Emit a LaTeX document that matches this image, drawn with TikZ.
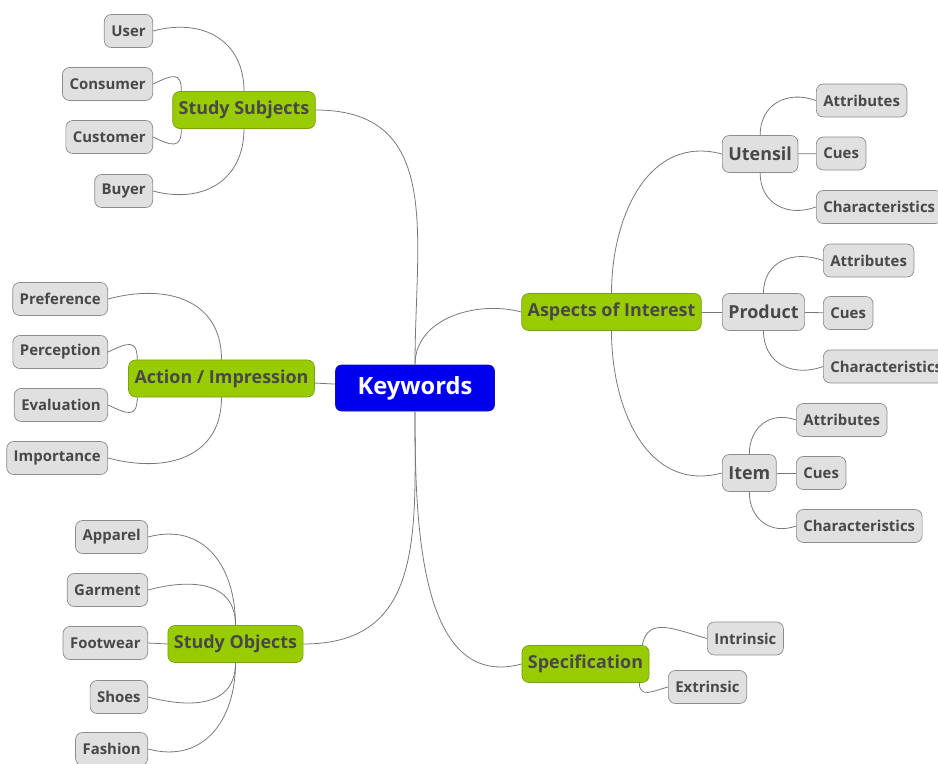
\documentclass[tikz,border=0pt]{standalone}
\usepackage{fontspec}
\setmainfont{Open Sans}
\definecolor{rootblue}{RGB}{0,0,238}
\definecolor{rootedge}{RGB}{20,20,170}
\definecolor{topicgreen}{RGB}{153,204,0}
\definecolor{topicedge}{RGB}{120,160,20}
\definecolor{leafgray}{RGB}{224,224,224}
\definecolor{leafedge}{RGB}{140,140,140}
\definecolor{textgray}{RGB}{72,72,72}
\definecolor{linkgray}{RGB}{120,120,120}
\tikzset{
  root/.style={draw=rootedge, fill=rootblue, text=white, rounded corners=0.12cm,
    font=\bfseries\fontsize{13.5}{16}\selectfont, minimum height=0.92cm, inner xsep=0.44cm},
  topic/.style={draw=topicedge, fill=topicgreen, text=textgray, rounded corners=0.14cm,
    font=\bfseries\fontsize{10.2}{12}\selectfont, minimum height=0.74cm, inner xsep=0.12cm},
  subtopic/.style={draw=leafedge, fill=leafgray, text=textgray, rounded corners=0.14cm,
    font=\bfseries\fontsize{10.2}{12}\selectfont, minimum height=0.74cm, inner xsep=0.12cm},
  leaf/.style={draw=leafedge, fill=leafgray, text=textgray, rounded corners=0.14cm,
    font=\bfseries\fontsize{8.5}{10}\selectfont, minimum height=0.66cm, inner xsep=0.14cm},
  link/.style={draw=linkgray, line width=0.45pt}
}

\begin{document}
\begin{tikzpicture}
\useasboundingbox (0,0) rectangle (18.76,15.26);

% centre and main branches
\node[root] (kw) at (8.30,7.50) {Keywords};
\node[topic] (ss) at (4.88,13.06) {Study Subjects};
\node[topic] (ai) at (4.43,7.69) {Action / Impression};
\node[topic] (so) at (4.71,2.38) {Study Objects};
\node[topic] (aoi) at (12.23,9.02) {Aspects of Interest};
\node[topic] (spec) at (11.71,1.98) {Specification};

% study subjects
\node[leaf, anchor=east] (user) at (3.06,14.64) {User};
\node[leaf, anchor=east] (cons) at (3.06,13.58) {Consumer};
\node[leaf, anchor=east] (cust) at (3.06,12.52) {Customer};
\node[leaf, anchor=east] (buyer) at (3.06,11.44) {Buyer};

% action / impression
\node[leaf, anchor=east] (pref) at (2.16,9.28) {Preference};
\node[leaf, anchor=east] (perc) at (2.16,8.22) {Perception};
\node[leaf, anchor=east] (eval) at (2.16,7.16) {Evaluation};
\node[leaf, anchor=east] (imp) at (2.16,6.10) {Importance};

% study objects
\node[leaf, anchor=east] (app) at (2.96,4.52) {Apparel};
\node[leaf, anchor=east] (gar) at (2.96,3.46) {Garment};
\node[leaf, anchor=east] (foot) at (2.96,2.40) {Footwear};
\node[leaf, anchor=east] (shoes) at (2.96,1.32) {Shoes};
\node[leaf, anchor=east] (fash) at (2.96,0.28) {Fashion};

% aspects of interest
\node[subtopic, anchor=west] (ut) at (14.44,12.18) {Utensil};
\node[subtopic, anchor=west] (pr) at (14.44,9.02) {Product};
\node[subtopic, anchor=west] (it) at (14.44,5.80) {Item};
\node[leaf, anchor=west] (att1) at (16.32,13.25) {Attributes};
\node[leaf, anchor=west] (cue1) at (16.32,12.19) {Cues};
\node[leaf, anchor=west] (ch1) at (16.32,11.12) {Characteristics};
\node[leaf, anchor=west] (att2) at (16.46,10.05) {Attributes};
\node[leaf, anchor=west] (cue2) at (16.46,9.00) {Cues};
\node[leaf, anchor=west] (ch2) at (16.46,7.93) {Characteristics};
\node[leaf, anchor=west] (att3) at (15.92,6.86) {Attributes};
\node[leaf, anchor=west] (cue3) at (15.92,5.80) {Cues};
\node[leaf, anchor=west] (ch3) at (15.92,4.74) {Characteristics};

% specification
\node[leaf, anchor=west] (intr) at (14.14,2.49) {Intrinsic};
\node[leaf, anchor=west] (extr) at (13.36,1.52) {Extrinsic};

% links from the centre
\draw[link] (kw.north) to[out=90,in=0,looseness=1.2] (ss.east);
\draw[link] (kw) -- (ai);
\draw[link] (kw.south) to[out=-90,in=0,looseness=1.2] (so.east);
\draw[link] (kw.north) to[out=90,in=165] (aoi.west);
\draw[link] (kw.south) to[out=-90,in=195] (spec.west);

\draw[link] (ss.north) to[out=90,in=15,looseness=1.2] (user.east);
\draw[link] ([xshift=0.18cm]ss.north west) to[out=90,in=25,looseness=1.8] (cons.east);
\draw[link] ([xshift=0.18cm]ss.south west) to[out=-90,in=-25,looseness=1.8] (cust.east);
\draw[link] (ss.south) to[out=-90,in=-15,looseness=1.2] (buyer.east);

\draw[link] (ai.north) to[out=90,in=15,looseness=1.2] (pref.east);
\draw[link] ([xshift=0.18cm]ai.north west) to[out=90,in=25,looseness=1.8] (perc.east);
\draw[link] ([xshift=0.18cm]ai.south west) to[out=-90,in=-25,looseness=1.8] (eval.east);
\draw[link] (ai.south) to[out=-90,in=-15,looseness=1.2] (imp.east);

\draw[link] (so.north) to[out=90,in=15,looseness=1.2] (app.east);
\draw[link] (so.north) to[out=90,in=15,looseness=1.2] (gar.east);
\draw[link] (so.west) -- (foot.east);
\draw[link] (so.south) to[out=-90,in=-15,looseness=1.2] (shoes.east);
\draw[link] (so.south) to[out=-90,in=-15,looseness=1.2] (fash.east);

\draw[link] (aoi.north) to[out=90,in=165,looseness=1.1] (ut.west);
\draw[link] (aoi) -- (pr);
\draw[link] (aoi.south) to[out=-90,in=195,looseness=1.1] (it.west);

\draw[link] (ut.north) to[out=90,in=160,looseness=1.2] (att1.west);
\draw[link] (ut) -- (cue1);
\draw[link] (ut.south) to[out=-90,in=200,looseness=1.2] (ch1.west);
\draw[link] (pr.north) to[out=90,in=160,looseness=1.2] (att2.west);
\draw[link] (pr) -- (cue2);
\draw[link] (pr.south) to[out=-90,in=200,looseness=1.2] (ch2.west);
\draw[link] (it.north) to[out=90,in=160,looseness=1.2] (att3.west);
\draw[link] (it) -- (cue3);
\draw[link] (it.south) to[out=-90,in=200,looseness=1.2] (ch3.west);

\draw[link] ([xshift=-0.14cm]spec.north east) to[out=80,in=165,looseness=1.2] (intr.west);
\draw[link] ([xshift=-0.2cm]spec.south east) to[out=-90,in=195,looseness=1.4] (extr.west);
\end{tikzpicture}
\end{document}
